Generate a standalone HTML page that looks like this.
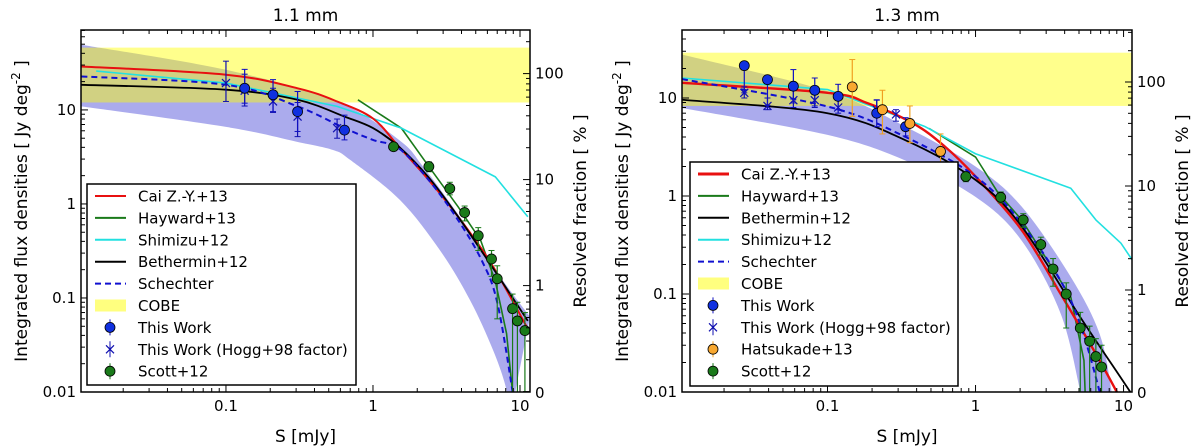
<!DOCTYPE html>
<html><head><meta charset="utf-8"><style>
html,body{margin:0;padding:0;background:#fff;}
svg{display:block;font-family:"DejaVu Sans","Liberation Sans",sans-serif;}
</style></head><body>
<svg id="chart" width="1200" height="448" viewBox="0 0 1200 448" xmlns="http://www.w3.org/2000/svg"></svg>
<script>
// ---------- LEFT PANEL DATA (1.1 mm) ----------
const L_caiS=[0.0104,0.1,0.307,0.57,1,1.5,2.4,3.8,6.4,11.3];
const L_caiF=[29,23.7,17,12.3,8.1,4.06,1.79,0.73,0.23,0.047];
const L_betS=[0.0104,0.1,0.307,0.64,1,1.5,2.4,3.8,6.8,11.3];
const L_betF=[18.5,16.4,12.8,8.5,6.4,4.06,1.9,0.73,0.19,0.057];
const L_shiS=[0.0131,0.1,0.57,1.56,6.8,11.3];
const L_shiF=[25.9,19.3,10.9,6.4,1.94,0.73];
const L_schS=[0.0104,0.1,0.307,0.64,1,1.5,2.4,3.8,5.5,7.0,8.9,9.3];
const L_schF=[22.7,18.5,10.9,6.4,4.8,3.9,1.79,0.67,0.25,0.09,0.01,0.005];
const L_hayS=[0.79,1.56,2.4,3.8,5.4,6.8,8.1,8.9,9.0];
const L_hayF=[12.8,6.4,2.5,0.93,0.41,0.15,0.042,0.01,0.005];
const L_bandS=[0.0104,0.1,0.57,1.5,2.19,3.9,7.3,11.7];
const L_bandHi=[49.4,26.7,12.3,4.8,2.5,0.73,0.17,0.063];
const L_bandLoS=[0.0104,0.1,0.3,0.535,0.7,1.53,2.86,4.57,6.55,8.1,8.5];
const L_bandLo=[10.9,6.6,4.6,3.75,2.94,1.1,0.32,0.095,0.028,0.0105,0.005];
const L_cobe=[46,12.0];
const L_twS=[0.134,0.209,0.307,0.64];
const L_twF=[17,14.5,9.6,6.1];
const L_twHi=[27,21,15.7,8.8];
const L_twLo=[11.8,9.6,5.9,4.8];
const L_hgS=[0.1,0.134,0.209,0.307,0.57];
const L_hgF=[19.3,16,12.3,8.5,6.4];
const L_hgHi=[33,24,17,12,8];
const L_hgLo=[12.3,11,9.4,5.2,5.0];
const L_scS=[1.38,2.4,3.33,4.2,5.2,6.4,7.0,8.9,9.6,10.8];
const L_scF=[4.06,2.5,1.46,0.81,0.46,0.26,0.16,0.077,0.057,0.045];
const L_scHi=[4.4,2.8,1.7,0.95,0.56,0.32,0.22,0.11,0.09,0.07];
const L_scLo=[3.7,2.2,1.25,0.66,0.32,0.17,0.06,0.005,0.005,0.005];
// ---------- RIGHT PANEL DATA (1.3 mm) ----------
const R_caiS=[0.0104,0.1,0.185,0.38,0.62,1,2.05,3.76,6.5,9.0,9.6];
const R_caiF=[14.3,11.3,8.9,5.5,3.2,1.58,0.45,0.10,0.0245,0.01,0.008];
const R_betS=[0.0104,0.1,0.337,1,2.05,5.1,11.1,12];
const R_betF=[9.6,7.0,3.7,1.46,0.49,0.058,0.01,0.008];
const R_shiS=[0.0104,0.1,0.457,1,4.4,6.5,9.6,11.5];
const R_shiF=[16,12.2,5.1,2.7,1.2,0.57,0.33,0.22];
const R_schS=[0.0104,0.1,0.337,1,2.05,4.4,6.9,7.1];
const R_schF=[15.6,8.2,4.0,1.58,0.52,0.086,0.01,0.006];
const R_hayS=[0.485,1,1.43,2.05,4.4,5.4,5.5,5.6];
const R_hayF=[4.9,2.5,1.06,0.57,0.093,0.021,0.01,0.005];
const R_bandS=[0.0104,0.1,0.337,1,2.05,4.4,6.9,8.3,8.6];
const R_bandHi=[27.8,11.7,5.1,2.0,0.78,0.149,0.039,0.01,0.005];
const R_bandLoS=[0.0104,0.1,0.337,1,2.05,3.76,5.1,5.3];
const R_bandLo=[7.9,4.2,2.3,0.98,0.35,0.063,0.01,0.006];
const R_cobe=[29,8.3];
const R_twS=[0.0274,0.0393,0.0588,0.082,0.118,0.215,0.337];
const R_twF=[21.4,15.4,13.2,12,10.4,7.0,5.1];
const R_twHi=[21.4,15.4,19.5,16,13.8,9.6,6.3];
const R_twLo=[11.3,8.4,8.9,8.3,7.6,5.1,4.1];
const R_hgS=[0.0274,0.0393,0.0588,0.082,0.118,0.215,0.29];
const R_hgF=[11.3,8.3,9.5,9.5,8.0,7.6,6.8];
const R_hgHi=[13,10,12,12,10,9.5,7.6];
const R_hgLo=[10,7.6,8,8,7,6.5,5.8];
const R_haS=[0.147,0.235,0.36,0.58];
const R_haF=[13,7.6,5.5,2.85];
const R_haHi=[24.7,12,8.3,4.3];
const R_haLo=[6.5,4.3,3.5,1.85];
const R_scS=[0.86,1.48,2.1,2.76,3.34,4.1,5.1,5.9,6.5,7.1];
const R_scF=[1.58,0.97,0.57,0.32,0.18,0.1,0.045,0.033,0.023,0.018];
const R_scHi=[1.75,1.1,0.66,0.38,0.23,0.13,0.065,0.047,0.035,0.03];
const R_scLo=[1.4,0.85,0.48,0.25,0.12,0.045,0.006,0.006,0.006,0.006];
// tick labels
const xTickVals=[0.1,1,10];
const xTickLabels=["0.1","1","10"];
const yTickVals=[0.01,0.1,1,10];
const yTickLabels=["0.01","0.1","1","10"];
const rTickVals=[1,10,100];
const rTickLabels=["1","10","100"];

const NS="http://www.w3.org/2000/svg";
const svg=document.getElementById('chart');
function mk(tag,attrs,parent){const e=document.createElementNS(NS,tag);for(const k in attrs)e.setAttribute(k,attrs[k]);(parent||svg).appendChild(e);return e;}
function spline(p){
  let d='';
  for(let i=0;i<p.length-1;i++){
    const p0=p[i-1]||p[i],p1=p[i],p2=p[i+1],p3=p[i+2]||p2;
    const c1=[p1[0]+(p2[0]-p0[0])/6,p1[1]+(p2[1]-p0[1])/6];
    const c2=[p2[0]-(p3[0]-p1[0])/6,p2[1]-(p3[1]-p1[1])/6];
    d+=` C${c1[0].toFixed(1)},${c1[1].toFixed(1)} ${c2[0].toFixed(1)},${c2[1].toFixed(1)} ${p2[0].toFixed(1)},${p2[1].toFixed(1)}`;
  }
  return d;
}

function panel(P){
  const g=mk('g',{});
  
  
  const X=v=>P.x0+(Math.log10(v)-P.lx0)/(P.lx1-P.lx0)*(P.x1-P.x0);
  const Y=v=>P.y1-(Math.log10(v)-P.ly0)/(P.ly1-P.ly0)*(P.y1-P.y0);
  const RY=v=>P.r100+(2-Math.log10(v))*P.rdec;
  const cid='clip-'+P.id;
  const defs=mk('defs',{},g);
  const cp=mk('clipPath',{id:cid},defs);
  mk('rect',{x:P.x0,y:P.y0,width:P.x1-P.x0,height:P.y1-P.y0},cp);
  const pg=mk('g',{'clip-path':'url(#'+cid+')'},g);
  const up=P.bandS.map((s,i)=>[X(s),Y(P.bandHi[i])]);
  const lo=P.bandLoS.map((s,i)=>[X(s),Y(P.bandLo[i])]).reverse();
  const bd=`M${up[0][0]},${up[0][1]}`+spline(up)+` L${lo[0][0]},${lo[0][1]}`+spline(lo)+' Z';
  const band=mk('path',{d:bd,fill:'rgb(0,0,200)','fill-opacity':0.33},pg);
  
  
  const cobe=mk('rect',{x:P.x0,y:Y(P.cobe[0]),width:P.x1-P.x0,height:Y(P.cobe[1])-Y(P.cobe[0]),fill:'rgb(255,255,0)','fill-opacity':0.45},pg);
  
  
  function line(S,F,color,w,dash,name,smooth){
    const pts=S.map((s,i)=>[X(s),Y(F[i])]);
    const d=`M${pts[0][0]},${pts[0][1]}`+(smooth?spline(pts):pts.slice(1).map(p=>` L${p[0]},${p[1]}`).join(''));
    const p=mk('path',{d:d,fill:'none',stroke:color,'stroke-width':w,'stroke-linejoin':'round'},pg);
    if(dash)p.setAttribute('stroke-dasharray',dash);
    
    
  }
  line(P.hayS,P.hayF,'#1a7a1a',1.6,null,'hayward-line',false);
  line(P.shiS,P.shiF,'#22e0e0',1.6,null,'shimizu-line',false);
  line(P.caiS,P.caiF,'#e81010',P.id==='right'?2.4:2,null,'cai-line',true);
  line(P.betS,P.betF,'#000',1.8,null,'bethermin-line',true);
  line(P.schS,P.schF,'#1010d0',2,'6,4','schechter-line',true);
  function errs(S,F,H,Lo,color,marker,name,r){
    S.forEach((s,i)=>{
      const x=X(s);
      const e=mk('line',{x1:x,x2:x,y1:Y(H[i]),y2:Y(Lo[i]),stroke:color,'stroke-width':1.2},pg);
      
      
      mk('line',{x1:x-3,x2:x+3,y1:Y(H[i]),y2:Y(H[i]),stroke:color,'stroke-width':1},pg);
      mk('line',{x1:x-3,x2:x+3,y1:Y(Lo[i]),y2:Y(Lo[i]),stroke:color,'stroke-width':1},pg);
      const y=Y(F[i]);let m;
      if(marker==='x'){m=mk('path',{d:`M${x-4},${y-4}L${x+4},${y+4}M${x-4},${y+4}L${x+4},${y-4}`,stroke:color,'stroke-width':1.2},pg);}
      else{m=mk('circle',{cx:x,cy:y,r:r,fill:marker,stroke:'#000','stroke-width':0.8},pg);}
      
      
    });
  }
  errs(P.hgS,P.hgF,P.hgHi,P.hgLo,'#1010b0','x','hogg');
  errs(P.twS,P.twF,P.twHi,P.twLo,'#1010c0','#1030e0','this-work',5);
  if(P.haS)errs(P.haS,P.haF,P.haHi,P.haLo,'#f0a020','#f8a830','hatsukade',5);
  errs(P.scS,P.scF,P.scHi,P.scLo,'#1a7a1a','#1a7a1a','scott',5);
  const fr=mk('rect',{x:P.x0,y:P.y0,width:P.x1-P.x0,height:P.y1-P.y0,fill:'none',stroke:'#000','stroke-width':1.5},g);
  
  
  for(let d=-2;d<=1;d++)for(let k=1;k<10;k++){
    const v=k*Math.pow(10,d);const lv=Math.log10(v);
    if(lv<P.lx0||lv>P.lx1)continue;
    const x=X(v),len=k===1?7:4;
    mk('line',{x1:x,x2:x,y1:P.y1,y2:P.y1-len,stroke:'#000','stroke-width':1},g);
    mk('line',{x1:x,x2:x,y1:P.y0,y2:P.y0+len,stroke:'#000','stroke-width':1},g);
  }
  xTickVals.forEach((v,i)=>{const t=mk('text',{x:X(v),y:P.y1+19,'text-anchor':'middle','font-size':15},g);t.textContent=xTickLabels[i];
    });
  for(let d=-2;d<=1;d++)for(let k=1;k<10;k++){
    const v=k*Math.pow(10,d);const lv=Math.log10(v);
    if(lv<P.ly0-0.001||lv>P.ly1)continue;
    const y=Y(v),len=k===1?7:4;
    mk('line',{x1:P.x0,x2:P.x0+len,y1:y,y2:y,stroke:'#000','stroke-width':1},g);
  }
  yTickVals.forEach((v,i)=>{const t=mk('text',{x:P.x0-5,y:Y(v)+5,'text-anchor':'end','font-size':15},g);t.textContent=yTickLabels[i];
    });
  for(let d=-1;d<=2;d++)for(let k=1;k<10;k++){
    const v=k*Math.pow(10,d);const y=RY(v);
    if(y<P.y0||y>P.y1)continue;
    const len=k===1?7:4;
    mk('line',{x1:P.x1,x2:P.x1-len,y1:y,y2:y,stroke:'#000','stroke-width':1},g);
  }
  rTickVals.forEach((v,i)=>{const t=mk('text',{x:P.x1+5,y:RY(v)+5,'font-size':15},g);t.textContent=rTickLabels[i];
    });
  const z=mk('text',{x:P.x1+5,y:P.y1+6,'font-size':15},g);z.textContent='0';
  
  const cx=(P.x0+P.x1)/2;
  const ti=mk('text',{x:cx,y:21,'text-anchor':'middle','font-size':17},g);ti.textContent=P.title;
  
  const xl=mk('text',{x:cx,y:442,'text-anchor':'middle','font-size':17},g);xl.textContent='S  [mJy]';
  
  const yl=mk('text',{x:0,y:0,'text-anchor':'middle','font-size':17,transform:`translate(${P.x0-54},211) rotate(-90)`},g);
  yl.innerHTML='Integrated flux densities [ Jy deg<tspan dy="-7" font-size="12">-2</tspan><tspan dy="7"> ]</tspan>';
  
  const rl=mk('text',{x:0,y:0,'text-anchor':'middle','font-size':17,transform:`translate(${P.x1+56},211) rotate(-90)`},g);
  rl.textContent='Resolved fraction [ % ]';
  
  const lg=mk('g',{},g);
  
  
  mk('rect',{x:P.lgx,y:P.lgy,width:P.lgw,height:P.lgh,fill:'#fff',stroke:'#000','stroke-width':1.5},lg);
  P.legend.forEach((it,i)=>{
    const y=P.lgy+12+i*21.9;const lx=P.lgx+8;
    if(it.t==='line'){const l=mk('line',{x1:lx,x2:lx+31,y1:y,y2:y,stroke:it.c,'stroke-width':it.w||2},lg);if(it.d)l.setAttribute('stroke-dasharray',it.d);}
    else if(it.t==='rect'){mk('rect',{x:lx,y:y-6,width:31,height:12,fill:'rgb(255,255,0)','fill-opacity':0.5},lg);}
    else if(it.t==='x'){const x=lx+15;mk('line',{x1:x,x2:x,y1:y-8,y2:y+8,stroke:it.c,'stroke-width':1},lg);
      mk('path',{d:`M${x-4},${y-4}L${x+4},${y+4}M${x-4},${y+4}L${x+4},${y-4}`,stroke:it.c,'stroke-width':1.2},lg);}
    else {const x=lx+15;mk('line',{x1:x,x2:x,y1:y-8,y2:y+8,stroke:it.e,'stroke-width':1},lg);
      mk('circle',{cx:x,cy:y,r:5,fill:it.c,stroke:'#000','stroke-width':0.8},lg);}
    const tx=mk('text',{x:P.lgx+51,y:y+5.5,'font-size':15},lg);tx.textContent=it.l;
    
  });
}
const legL=[
 {t:'line',c:'#e81010',l:'Cai Z.-Y.+13'},{t:'line',c:'#1a7a1a',l:'Hayward+13'},{t:'line',c:'#22e0e0',l:'Shimizu+12'},
 {t:'line',c:'#000',l:'Bethermin+12'},{t:'line',c:'#1010d0',d:'6,4',l:'Schechter'},{t:'rect',l:'COBE'},
 {t:'pt',c:'#1030e0',e:'#1010c0',l:'This Work'},{t:'x',c:'#1010b0',l:'This Work (Hogg+98 factor)'},{t:'pt',c:'#1a7a1a',e:'#1a7a1a',l:'Scott+12'}];
const legR=[
 {t:'line',c:'#e81010',w:3,l:'Cai Z.-Y.+13'},{t:'line',c:'#1a7a1a',l:'Hayward+13'},{t:'line',c:'#000',l:'Bethermin+12'},
 {t:'line',c:'#22e0e0',l:'Shimizu+12'},{t:'line',c:'#1010d0',d:'6,4',l:'Schechter'},{t:'rect',l:'COBE'},
 {t:'pt',c:'#1030e0',e:'#1010c0',l:'This Work'},{t:'x',c:'#1010b0',l:'This Work (Hogg+98 factor)'},
 {t:'pt',c:'#f8a830',e:'#f0a020',l:'Hatsukade+13'},{t:'pt',c:'#1a7a1a',e:'#1a7a1a',l:'Scott+12'}];
panel({id:'left',title:'1.1 mm',x0:81,x1:530,y0:30,y1:392,lx0:-1.986,lx1:1.068,ly0:-2,ly1:1.85,r100:73.6,rdec:106,
 caiS:L_caiS,caiF:L_caiF,betS:L_betS,betF:L_betF,shiS:L_shiS,shiF:L_shiF,schS:L_schS,schF:L_schF,hayS:L_hayS,hayF:L_hayF,
 bandS:L_bandS,bandHi:L_bandHi,bandLoS:L_bandLoS,bandLo:L_bandLo,cobe:L_cobe,
 twS:L_twS,twF:L_twF,twHi:L_twHi,twLo:L_twLo,hgS:L_hgS,hgF:L_hgF,hgHi:L_hgHi,hgLo:L_hgLo,
 scS:L_scS,scF:L_scF,scHi:L_scHi,scLo:L_scLo,legend:legL,lgx:87,lgy:184,lgw:269,lgh:201});
panel({id:'right',title:'1.3 mm',x0:682,x1:1132,y0:30,y1:392,lx0:-1.983,lx1:1.057,ly0:-2,ly1:1.694,r100:82,rdec:104,
 caiS:R_caiS,caiF:R_caiF,betS:R_betS,betF:R_betF,shiS:R_shiS,shiF:R_shiF,schS:R_schS,schF:R_schF,hayS:R_hayS,hayF:R_hayF,
 bandS:R_bandS,bandHi:R_bandHi,bandLoS:R_bandLoS,bandLo:R_bandLo,cobe:R_cobe,
 twS:R_twS,twF:R_twF,twHi:R_twHi,twLo:R_twLo,hgS:R_hgS,hgF:R_hgF,hgHi:R_hgHi,hgLo:R_hgLo,
 haS:R_haS,haF:R_haF,haHi:R_haHi,haLo:R_haLo,
 scS:R_scS,scF:R_scF,scHi:R_scHi,scLo:R_scLo,legend:legR,lgx:690,lgy:162,lgw:268,lgh:224});
</script>
</body></html>
